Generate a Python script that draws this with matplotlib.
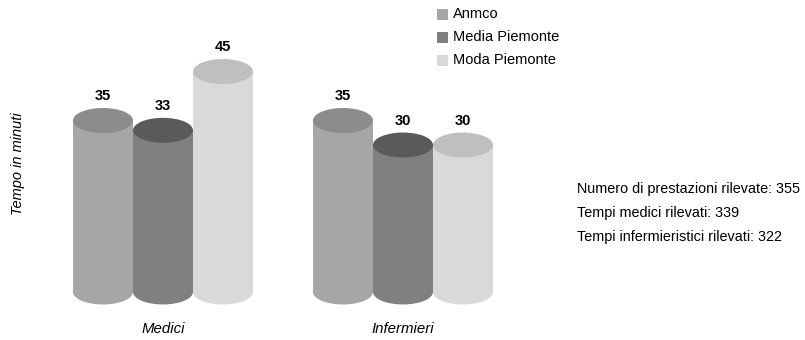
import matplotlib.pyplot as plt
from matplotlib.patches import Rectangle, Ellipse

plt.rcParams['font.family'] = ['Liberation Sans', 'DejaVu Sans']

# dati
categorie = ['Medici', 'Infermieri']
serie = ['Anmco', 'Media Piemonte', 'Moda Piemonte']
anmco = [35, 35]
media_piemonte = [33, 30]
moda_piemonte = [45, 30]
note = ['Numero di prestazioni rilevate: 355',
        'Tempi medici rilevati: 339',
        'Tempi infermieristici rilevati: 322']

valori = [anmco, media_piemonte, moda_piemonte]
col_lato = ['#a6a6a6', '#808080', '#d9d9d9']
col_top = ['#8c8c8c', '#5a5a5a', '#bfbfbf']

fig = plt.figure(figsize=(8.05, 3.4), dpi=100)
ax = fig.add_axes([0, 0, 1, 1])
ax.set_xlim(-0.679, 2.675)
ax.set_ylim(-9.8, 59.6)
ax.axis('off')

w = 0.25      # larghezza cilindro
eh = 5.1      # altezza ellisse (unita dati)

for i, cat in enumerate(categorie):
    for j in range(len(serie)):
        x = i + (j - 1) * w
        v = valori[j][i]
        z = 2 + j
        ax.add_patch(Ellipse((x, 0), w, eh, facecolor=col_lato[j], edgecolor='none', zorder=z))
        ax.add_patch(Rectangle((x - w / 2, 0), w, v, facecolor=col_lato[j], edgecolor='none', zorder=z))
        ax.add_patch(Ellipse((x, v), w, eh, facecolor=col_top[j], edgecolor='none', zorder=z))
        ax.text(x, v + eh / 2 + 1.0, str(v), ha='center', va='bottom',
                fontsize=10.5, fontweight='bold', zorder=10)
    ax.text(i, -7.55, cat, ha='center', va='center', fontsize=10.8, style='italic')

# legenda
for j, s in enumerate(serie):
    yc = 14 + 23 * j
    fig.patches.append(Rectangle((437 / 805, 1 - (yc + 5.5) / 340), 11 / 805, 11 / 340,
                                 transform=fig.transFigure, facecolor=col_lato[j],
                                 edgecolor='none'))
    fig.text(453 / 805, 1 - yc / 340, s, fontsize=10.5, va='center', ha='left')

fig.text(18 / 805, 1 - 164 / 340, 'Tempo in minuti', rotation=90, style='italic',
         fontsize=10.5, va='center', ha='center')

for k, t in enumerate(note):
    fig.text(577 / 805, 1 - (189 + 24 * k) / 340, t, fontsize=10.4, va='center', ha='left')

fig.savefig('out.png', dpi=100)
